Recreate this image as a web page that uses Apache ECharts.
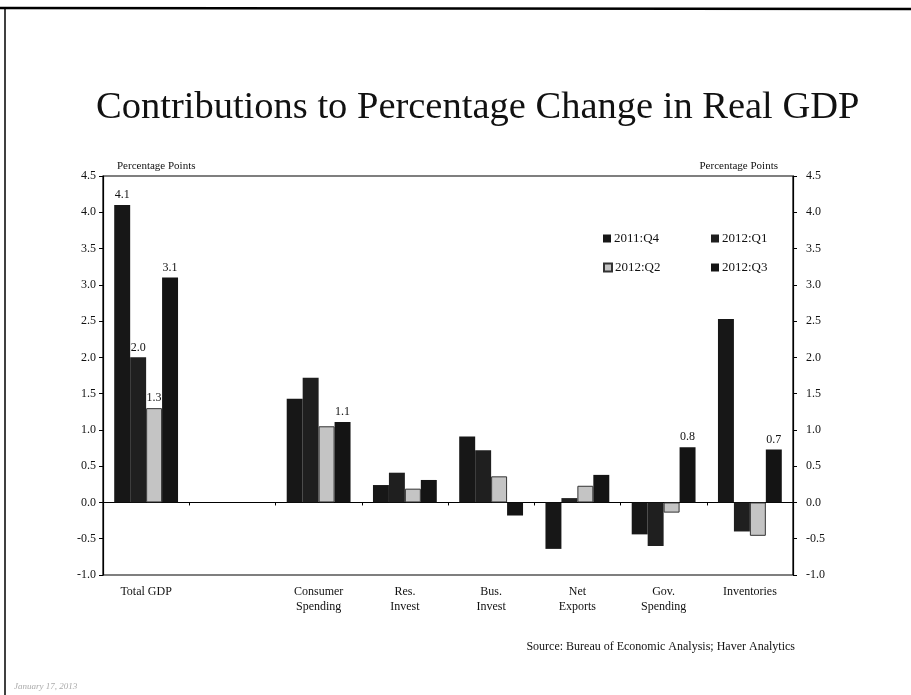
<!DOCTYPE html>
<html>
<head>
<meta charset="utf-8">
<script src="https://cdn.jsdelivr.net/npm/echarts@6/dist/echarts.min.js"></script>
<style>
html,body{margin:0;padding:0;background:#fff;}
#chart{width:911px;height:695px;}
</style>
</head>
<body>
<div id="chart"></div>
<script>
const categories = ['Total GDP', '', 'Consumer\nSpending', 'Res.\nInvest', 'Bus.\nInvest', 'Net\nExports', 'Gov.\nSpending', 'Inventories'];
const seriesNames = ['2011:Q4', '2012:Q1', '2012:Q2', '2012:Q3'];
const q4_2011 = [4.1, null, 1.43, 0.24, 0.91, -0.64, -0.44, 2.53];
const q1_2012 = [2.0, null, 1.72, 0.41, 0.72, 0.06, -0.60, -0.40];
const q2_2012 = [1.3, null, 1.05, 0.19, 0.36, 0.23, -0.14, -0.46];
const q3_2012 = [3.1, null, 1.11, 0.31, -0.18, 0.38, 0.76, 0.73];
const labeledIdx = [[0], [0], [0], [0, 2, 6, 7]];
const yTicks = [-1.0, -0.5, 0.0, 0.5, 1.0, 1.5, 2.0, 2.5, 3.0, 3.5, 4.0, 4.5];

const allValues = [q4_2011, q1_2012, q2_2012, q3_2012];
const colors = ['#171717', '#1f1f1f', '#c4c4c4', '#141414'];
const serif = '"Liberation Serif", "DejaVu Serif", serif';

function buildData(vals, idxs) {
  return vals.map((v, i) => {
    if (v === null) return '-';
    return idxs.includes(i) ? { value: v, label: { show: true } } : v;
  });
}

const series = allValues.map((vals, s) => ({
  name: seriesNames[s],
  type: 'bar',
  xAxisIndex: 0,
  yAxisIndex: 0,
  barGap: '0%',
  barCategoryGap: '26%',
  data: buildData(vals, labeledIdx[s]),
  itemStyle: {
    color: colors[s],
    borderColor: s === 2 ? '#333' : colors[s],
    borderWidth: s === 2 ? 1 : 0
  },
  label: {
    show: false,
    position: 'top',
    distance: 4,
    fontFamily: serif,
    fontSize: 12,
    color: '#111',
    formatter: p => Number(p.value).toFixed(1)
  }
}));

const legendPos = [[598, 227], [706, 227], [598, 256], [706, 256]];
const legends = seriesNames.map((n, i) => ({
  data: [n],
  left: legendPos[i][0],
  top: legendPos[i][1],
  itemWidth: 8,
  itemHeight: 8,
  itemGap: 4,
  icon: 'rect',
  textStyle: { fontFamily: serif, fontSize: 13, color: '#111', padding: [0, 0, 0, -2] }
}));

const yAxisCommon = {
  type: 'value',
  min: -1.0,
  max: 4.5,
  interval: 0.5,
  splitLine: { show: false },
  axisLine: { show: true, lineStyle: { color: '#000', width: 1.2 } },
  axisTick: { show: true, length: 4, lineStyle: { color: '#000' } },
};

const chart = echarts.init(document.getElementById('chart'));
chart.setOption({
  animation: false,
  backgroundColor: '#fff',
  title: {
    text: 'Contributions to Percentage Change in Real GDP',
    left: 91,
    top: 83,
    textStyle: { fontFamily: serif, fontSize: 38.5, fontWeight: 'normal', color: '#111' }
  },
  legend: legends,
  grid: {
    left: 103, right: 118, top: 176, bottom: 120,
    show: true, borderColor: '#000', borderWidth: 1.2, backgroundColor: 'transparent'
  },
  xAxis: [
    {
      type: 'category',
      data: categories,
      axisLine: { onZero: true, lineStyle: { color: '#000', width: 1.2 } },
      axisTick: { show: true, length: 3, lineStyle: { color: '#000' } },
      axisLabel: { show: false }
    },
    {
      type: 'category',
      data: categories,
      position: 'bottom',
      axisLine: { show: false, onZero: false },
      axisTick: { show: false },
      axisLabel: {
        show: true, interval: 0, margin: 9, lineHeight: 15,
        fontFamily: serif, fontSize: 12, color: '#111'
      }
    }
  ],
  yAxis: [
    Object.assign({}, yAxisCommon, {
      position: 'left',
      axisLabel: { margin: 7, fontFamily: serif, fontSize: 12, color: '#111', formatter: v => v.toFixed(1) }
    }),
    Object.assign({}, yAxisCommon, {
      position: 'right',
      axisLabel: { margin: 13, fontFamily: serif, fontSize: 12, color: '#111', formatter: v => v.toFixed(1) }
    })
  ],
  series: series,
  graphic: [
    { type: 'text', left: 117, top: 161, style: { text: 'Percentage Points', font: '11px ' + serif, fill: '#111' } },
    { type: 'text', right: 133, top: 161, style: { text: 'Percentage Points', font: '11px ' + serif, fill: '#111', textAlign: 'right' } },
    { type: 'text', right: 116, top: 641, style: { text: 'Source: Bureau of Economic Analysis; Haver Analytics', font: '12px ' + serif, fill: '#111' } },
    { type: 'text', left: 14, top: 682, style: { text: 'January 17, 2013', font: 'italic 9px ' + serif, fill: '#aaa' } },
    { type: 'line', shape: { x1: 0, y1: 8, x2: 911, y2: 9 }, style: { stroke: '#000', lineWidth: 2.5 } },
    { type: 'line', shape: { x1: 5, y1: 8, x2: 5, y2: 695 }, style: { stroke: '#000', lineWidth: 1.5 } }
  ]
});
</script>
</body>
</html>
